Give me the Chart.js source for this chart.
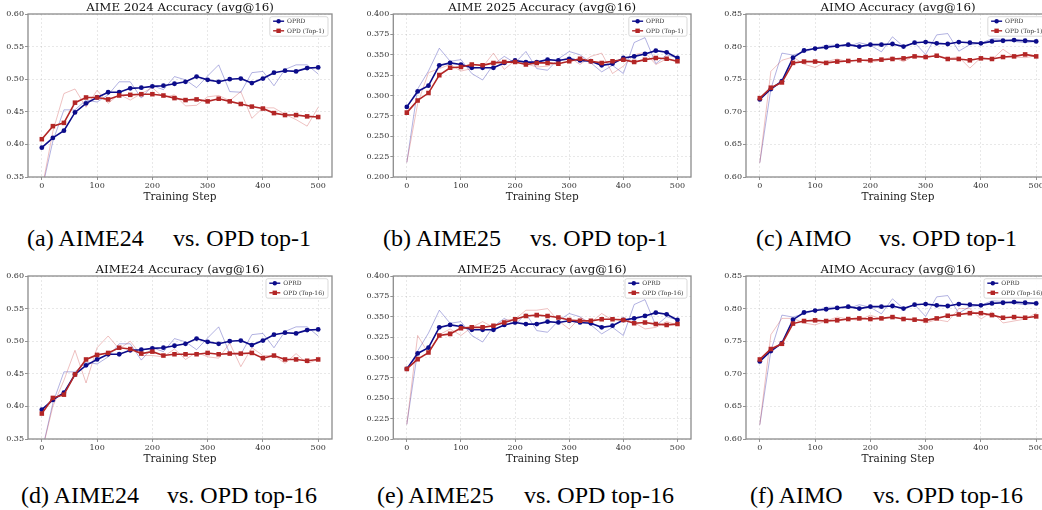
<!DOCTYPE html>
<html>
<head>
<meta charset="utf-8">
<script src="https://cdn.jsdelivr.net/npm/chart.js@4.4.0/dist/chart.umd.min.js"></script>
<style>
  body { margin: 0; background: #fff; width: 1042px; height: 510px; overflow: hidden; position: relative; }
  canvas { position: absolute; }
  .cap { position: absolute; font-family: "Liberation Serif", "Times New Roman", serif; font-size: 24px; line-height: 24px; white-space: nowrap; color: #000; }
</style>
</head>
<body>
<canvas id="c1" width="340" height="205" style="left:0px;top:0px"></canvas>
<canvas id="c2" width="339" height="205" style="left:360px;top:0px"></canvas>
<canvas id="c3" width="342" height="205" style="left:716px;top:0px"></canvas>
<canvas id="c4" width="340" height="205" style="left:0px;top:262px"></canvas>
<canvas id="c5" width="339" height="205" style="left:360px;top:262px"></canvas>
<canvas id="c6" width="342" height="205" style="left:716px;top:262px"></canvas>

<span class="cap" style="left:27px;top:226px">(a) AIME24</span>
<span class="cap" style="left:173px;top:226px">vs. OPD top-1</span>
<span class="cap" style="left:383px;top:226px">(b) AIME25</span>
<span class="cap" style="left:530px;top:226px">vs. OPD top-1</span>
<span class="cap" style="left:756px;top:226px">(c) AIMO</span>
<span class="cap" style="left:879px;top:226px">vs. OPD top-1</span>
<span class="cap" style="left:21px;top:483px">(d) AIME24</span>
<span class="cap" style="left:167px;top:483px">vs. OPD top-16</span>
<span class="cap" style="left:377px;top:483px">(e) AIME25</span>
<span class="cap" style="left:524px;top:483px">vs. OPD top-16</span>
<span class="cap" style="left:750px;top:483px">(f) AIMO</span>
<span class="cap" style="left:873px;top:483px">vs. OPD top-16</span>

<script>
"use strict";

const steps = [0, 20, 40, 60, 80, 100, 120, 140, 160, 180, 200, 220, 240,
               260, 280, 300, 320, 340, 360, 380, 400, 420, 440, 460, 480, 500];
const xTicks = [0, 100, 200, 300, 400, 500];

const yTicksAime24 = [0.35, 0.40, 0.45, 0.50, 0.55, 0.60];
const yTicksAime25 = [0.200, 0.225, 0.250, 0.275, 0.300, 0.325, 0.350, 0.375, 0.400];
const yTicksAimo = [0.60, 0.65, 0.70, 0.75, 0.80, 0.85];

// AIME24
const aime24OprdSmooth = [0.395, 0.410, 0.421, 0.449, 0.463, 0.472, 0.480, 0.480, 0.486, 0.487, 0.489, 0.490, 0.493,
                          0.496, 0.504, 0.499, 0.496, 0.500, 0.501, 0.494, 0.501, 0.510, 0.513, 0.512, 0.517, 0.518];
const aime24OprdRaw = [0.330, 0.405, 0.453, 0.453, 0.468, 0.465, 0.476, 0.496, 0.496, 0.471, 0.490, 0.484, 0.504,
                       0.499, 0.487, 0.505, 0.522, 0.481, 0.480, 0.510, 0.512, 0.490, 0.515, 0.522, 0.522, 0.508];
const aime24Top1Smooth = [0.408, 0.428, 0.433, 0.464, 0.472, 0.472, 0.469, 0.475, 0.476, 0.477, 0.477, 0.475, 0.471,
                          0.468, 0.469, 0.466, 0.470, 0.466, 0.462, 0.458, 0.455, 0.448, 0.445, 0.445, 0.443, 0.442];
const aime24Top1Raw = [0.330, 0.420, 0.478, 0.485, 0.457, 0.483, 0.463, 0.477, 0.468, 0.478, 0.487, 0.472, 0.476,
                       0.459, 0.460, 0.473, 0.475, 0.467, 0.481, 0.440, 0.456, 0.456, 0.446, 0.438, 0.428, 0.457];
const aime24Top16Smooth = [0.389, 0.413, 0.418, 0.449, 0.472, 0.479, 0.482, 0.490, 0.488, 0.481, 0.484, 0.478, 0.480,
                           0.480, 0.480, 0.482, 0.480, 0.481, 0.481, 0.482, 0.474, 0.478, 0.472, 0.472, 0.470, 0.472];
const aime24Top16Raw = [0.330, 0.400, 0.440, 0.486, 0.436, 0.490, 0.508, 0.488, 0.500, 0.478, 0.478, 0.476, 0.488,
                        0.472, 0.483, 0.476, 0.474, 0.497, 0.461, 0.490, 0.478, 0.478, 0.466, 0.481, 0.466, 0.472];

// AIME25
const aime25OprdSmooth = [0.286, 0.305, 0.312, 0.337, 0.340, 0.338, 0.334, 0.334, 0.334, 0.340, 0.343, 0.341, 0.341,
                          0.344, 0.343, 0.345, 0.343, 0.342, 0.337, 0.339, 0.346, 0.348, 0.351, 0.355, 0.353, 0.346];
const aime25OprdRaw = [0.218, 0.308, 0.330, 0.358, 0.342, 0.344, 0.327, 0.319, 0.338, 0.348, 0.340, 0.354, 0.333,
                       0.331, 0.345, 0.354, 0.350, 0.340, 0.329, 0.337, 0.327, 0.365, 0.371, 0.339, 0.350, 0.346];
const aime25Top1Smooth = [0.279, 0.294, 0.303, 0.325, 0.334, 0.335, 0.338, 0.337, 0.340, 0.341, 0.341, 0.338, 0.340,
                          0.340, 0.339, 0.342, 0.345, 0.342, 0.340, 0.342, 0.344, 0.341, 0.344, 0.346, 0.345, 0.342];
const aime25Top1Raw = [0.218, 0.290, 0.328, 0.333, 0.338, 0.330, 0.333, 0.335, 0.352, 0.332, 0.343, 0.339, 0.335,
                       0.336, 0.342, 0.347, 0.338, 0.348, 0.352, 0.327, 0.336, 0.350, 0.353, 0.338, 0.345, 0.341];
const aime25Top16Smooth = [0.286, 0.298, 0.306, 0.327, 0.329, 0.336, 0.337, 0.337, 0.339, 0.343, 0.347, 0.351, 0.352,
                           0.351, 0.349, 0.346, 0.345, 0.345, 0.347, 0.347, 0.346, 0.342, 0.343, 0.341, 0.340, 0.341];
const aime25Top16Raw = [0.218, 0.327, 0.305, 0.328, 0.335, 0.327, 0.337, 0.344, 0.337, 0.346, 0.347, 0.358, 0.358,
                        0.360, 0.345, 0.335, 0.349, 0.343, 0.354, 0.346, 0.348, 0.343, 0.335, 0.337, 0.344, 0.340];

// AIMO
const aimoOprdSmooth = [0.719, 0.735, 0.747, 0.783, 0.794, 0.797, 0.799, 0.801, 0.803, 0.800, 0.803, 0.803, 0.804,
                        0.800, 0.806, 0.807, 0.805, 0.804, 0.807, 0.806, 0.805, 0.808, 0.809, 0.810, 0.809, 0.808];
const aimoOprdRaw = [0.622, 0.735, 0.790, 0.787, 0.792, 0.797, 0.802, 0.802, 0.800, 0.806, 0.802, 0.792, 0.815,
                     0.800, 0.806, 0.788, 0.818, 0.820, 0.793, 0.803, 0.805, 0.812, 0.811, 0.808, 0.806, 0.808];
const aimoTop1Smooth = [0.721, 0.737, 0.745, 0.775, 0.777, 0.777, 0.775, 0.777, 0.778, 0.779, 0.779, 0.780, 0.781,
                        0.782, 0.785, 0.784, 0.786, 0.781, 0.781, 0.779, 0.782, 0.781, 0.784, 0.785, 0.788, 0.785];
const aimoTop1Raw = [0.622, 0.762, 0.779, 0.784, 0.773, 0.768, 0.777, 0.781, 0.777, 0.780, 0.776, 0.779, 0.784,
                     0.777, 0.786, 0.782, 0.787, 0.782, 0.784, 0.767, 0.783, 0.780, 0.796, 0.784, 0.783, 0.786];
const aimoTop16Smooth = [0.722, 0.738, 0.746, 0.777, 0.781, 0.782, 0.781, 0.782, 0.784, 0.785, 0.784, 0.785, 0.787,
                         0.784, 0.783, 0.782, 0.785, 0.789, 0.791, 0.793, 0.793, 0.790, 0.786, 0.787, 0.786, 0.788];
const aimoTop16Raw = [0.622, 0.760, 0.785, 0.785, 0.778, 0.775, 0.781, 0.787, 0.784, 0.782, 0.790, 0.784, 0.786,
                      0.784, 0.785, 0.778, 0.783, 0.780, 0.800, 0.800, 0.784, 0.795, 0.778, 0.781, 0.784, 0.793];

const BLUE = '#0c0c8a';
const RED = '#b32626';
const BLUE_RAW = 'rgba(40, 40, 170, 0.45)';
const RED_RAW = 'rgba(200, 60, 60, 0.4)';
const SERIF = '"DejaVu Serif", serif';

function to_points(values) {
    return steps.map((s, i) => ({ x: s, y: values[i] }));
}

// frame, title and the boxed legend inside the plot
const panelDecor = {
    id: 'panelDecor',
    afterDraw(chart, args, opts) {
        const { ctx, chartArea: a } = chart;
        ctx.save();
        ctx.strokeStyle = '#8c8c8c';
        ctx.lineWidth = 1.3;
        ctx.strokeRect(a.left, a.top, a.right - a.left, a.bottom - a.top);

        ctx.fillStyle = '#111';
        ctx.font = '11.8px ' + SERIF;
        ctx.textAlign = 'center';
        ctx.textBaseline = 'alphabetic';
        ctx.fillText(opts.title, (a.left + a.right) / 2, a.top - 3.5);

        // legend
        const items = chart.data.datasets.filter(d => d.inLegend).reverse();
        ctx.font = '6px ' + SERIF;
        let tw = 0;
        items.forEach(d => { tw = Math.max(tw, ctx.measureText(d.label).width); });
        const bw = tw + 21;
        const bh = 19.5;
        const bx = a.right - 4 - bw;
        const by = a.top + 2.7;
        ctx.fillStyle = 'rgba(255,255,255,0.9)';
        ctx.strokeStyle = '#cfcfcf';
        ctx.lineWidth = 0.8;
        ctx.beginPath();
        ctx.roundRect(bx, by, bw, bh, 2);
        ctx.fill();
        ctx.stroke();
        items.forEach((d, i) => {
            const y = by + 4.5 + i * 9.6;
            ctx.strokeStyle = d.borderColor;
            ctx.lineWidth = 1.4;
            ctx.beginPath();
            ctx.moveTo(bx + 3.3, y);
            ctx.lineTo(bx + 14.3, y);
            ctx.stroke();
            ctx.fillStyle = d.borderColor;
            if (d.pointStyle === 'rect') {
                ctx.fillRect(bx + 8.8 - 2.2, y - 2.2, 4.4, 4.4);
            } else {
                ctx.beginPath();
                ctx.arc(bx + 8.8, y, 2.2, 0, Math.PI * 2);
                ctx.fill();
            }
            ctx.fillStyle = '#333';
            ctx.textAlign = 'left';
            ctx.textBaseline = 'middle';
            ctx.fillText(d.label, bx + 17.3, y + 0.5);
        });
        ctx.restore();
    }
};

function make_panel(canvas_id, title, yTicks, decimals, yAxisWidth, oprdSmooth, oprdRaw, opdSmooth, opdRaw, opdLabel) {
    const canvas_element = document.getElementById(canvas_id);
    new Chart(canvas_element, {
        type: 'line',
        data: {
            datasets: [
                {
                    label: opdLabel, inLegend: true, data: to_points(opdSmooth),
                    borderColor: RED, backgroundColor: RED, borderWidth: 1.6,
                    pointStyle: 'rect', pointRadius: 3.2, pointBorderWidth: 0,
                },
                {
                    label: 'OPRD', inLegend: true, data: to_points(oprdSmooth),
                    borderColor: BLUE, backgroundColor: BLUE, borderWidth: 1.6,
                    pointStyle: 'circle', pointRadius: 2.4, pointBorderWidth: 0,
                },
                {
                    label: opdLabel + ' raw', data: to_points(opdRaw),
                    borderColor: RED_RAW, borderWidth: 0.8, pointRadius: 0,
                },
                {
                    label: 'OPRD raw', data: to_points(oprdRaw),
                    borderColor: BLUE_RAW, borderWidth: 0.8, pointRadius: 0,
                },
            ]
        },
        options: {
            responsive: false,
            animation: false,
            layout: { padding: { left: 0, right: 8, top: 14, bottom: 0 } },
            plugins: {
                legend: { display: false },
                tooltip: { enabled: false },
                panelDecor: { title: title },
            },
            elements: { line: { tension: 0 } },
            scales: {
                x: {
                    type: 'linear',
                    min: -25,
                    max: 525,
                    afterBuildTicks: scale => { scale.ticks = xTicks.map(v => ({ value: v })); },
                    afterFit: scale => { scale.height = 28; },
                    ticks: { font: { family: SERIF, size: 8 }, color: '#333', padding: 1.5, maxRotation: 0 },
                    grid: { color: 'rgba(0,0,0,0.13)', lineWidth: 0.7, tickLength: 3, tickColor: '#777', tickWidth: 0.8 },
                    border: { display: false, dash: [2, 2] },
                    title: {
                        display: true, text: 'Training Step', color: '#222',
                        font: { family: SERIF, size: 10.5 }, padding: { top: 0, bottom: 1.5 }
                    },
                },
                y: {
                    min: yTicks[0],
                    max: yTicks[yTicks.length - 1],
                    afterBuildTicks: scale => { scale.ticks = yTicks.map(v => ({ value: v })); },
                    afterFit: scale => { scale.width = yAxisWidth; },
                    ticks: {
                        font: { family: SERIF, size: 8 }, color: '#333', padding: 1,
                        callback: v => Number(v).toFixed(decimals),
                    },
                    grid: { color: 'rgba(0,0,0,0.13)', lineWidth: 0.7, tickLength: 3, tickColor: '#777', tickWidth: 0.8 },
                    border: { display: false, dash: [2, 2] },
                },
            },
        },
        plugins: [panelDecor],
    });
}

make_panel('c1', 'AIME 2024 Accuracy (avg@16)', yTicksAime24, 2, 28,
    aime24OprdSmooth, aime24OprdRaw, aime24Top1Smooth, aime24Top1Raw, 'OPD (Top-1)');
make_panel('c2', 'AIME 2025 Accuracy (avg@16)', yTicksAime25, 3, 33.3,
    aime25OprdSmooth, aime25OprdRaw, aime25Top1Smooth, aime25Top1Raw, 'OPD (Top-1)');
make_panel('c3', 'AIMO Accuracy (avg@16)', yTicksAimo, 2, 30,
    aimoOprdSmooth, aimoOprdRaw, aimoTop1Smooth, aimoTop1Raw, 'OPD (Top-1)');
make_panel('c4', 'AIME24 Accuracy (avg@16)', yTicksAime24, 2, 28,
    aime24OprdSmooth, aime24OprdRaw, aime24Top16Smooth, aime24Top16Raw, 'OPD (Top-16)');
make_panel('c5', 'AIME25 Accuracy (avg@16)', yTicksAime25, 3, 33.3,
    aime25OprdSmooth, aime25OprdRaw, aime25Top16Smooth, aime25Top16Raw, 'OPD (Top-16)');
make_panel('c6', 'AIMO Accuracy (avg@16)', yTicksAimo, 2, 30,
    aimoOprdSmooth, aimoOprdRaw, aimoTop16Smooth, aimoTop16Raw, 'OPD (Top-16)');
</script>
</body>
</html>
